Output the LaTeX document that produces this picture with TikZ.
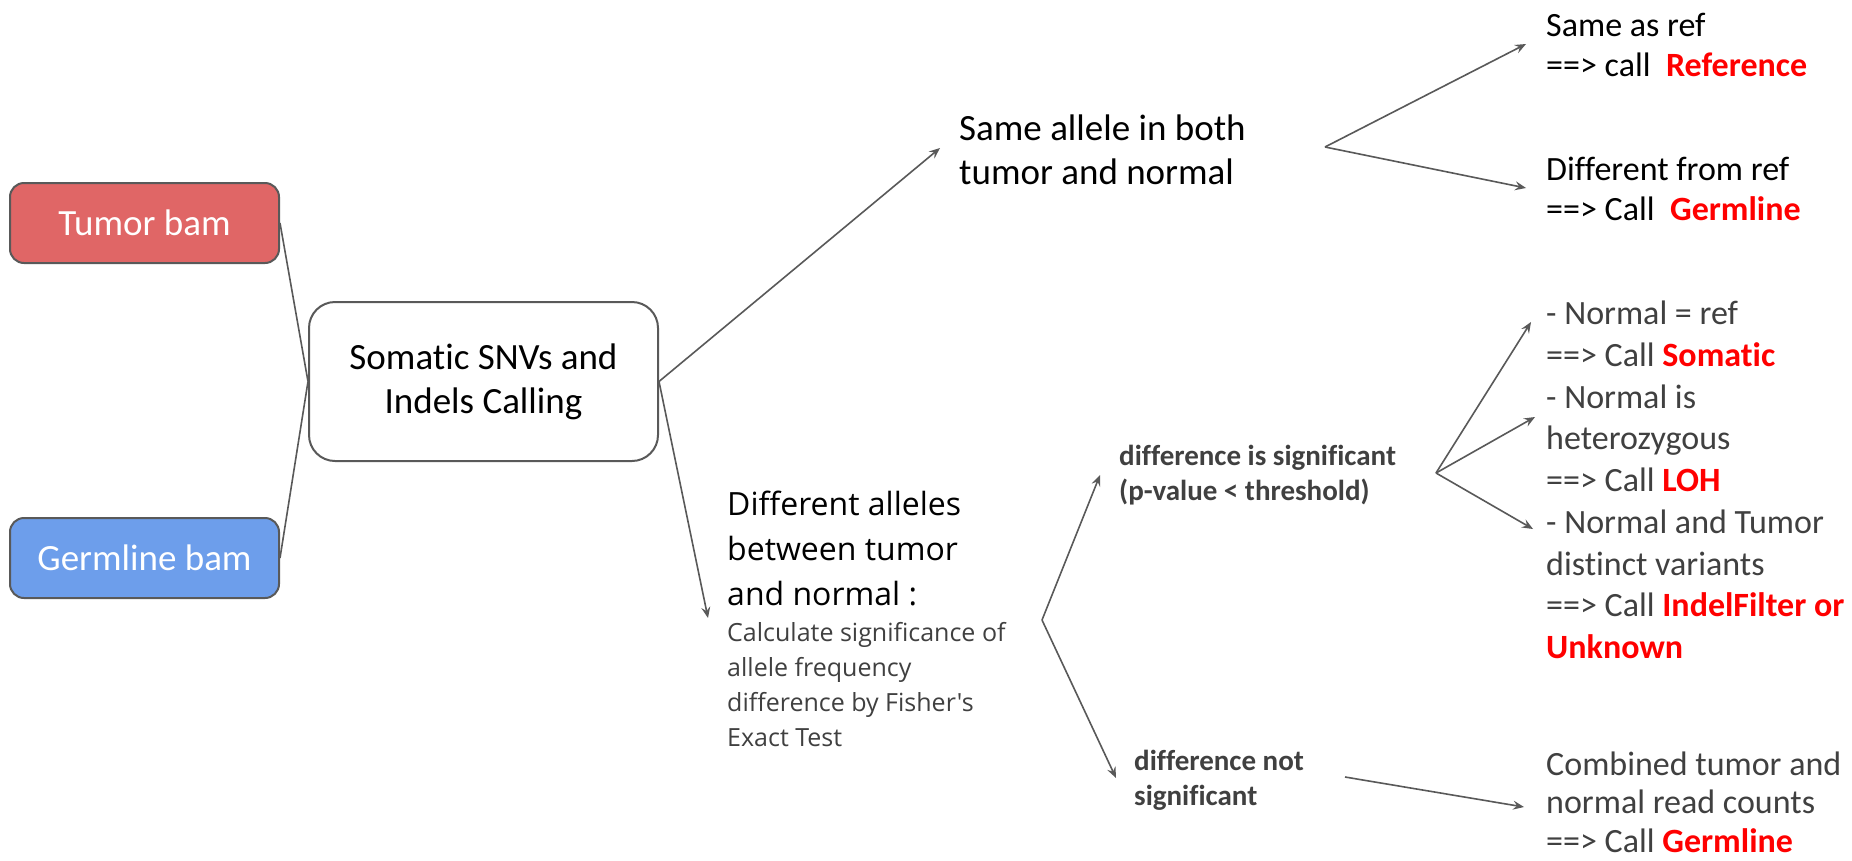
\documentclass[tikz,border=0pt]{standalone}
\usepackage{fontspec}
\setmainfont{Carlito}[Ligatures={NoCommon}]
\newfontfamily\osans{Open Sans}[Ligatures={NoCommon}]
\usetikzlibrary{arrows.meta}
\definecolor{tumorred}{HTML}{E06666}
\definecolor{germblue}{HTML}{6D9EEB}
\definecolor{edgegray}{HTML}{595959}
\definecolor{txtgray}{HTML}{404040}
\definecolor{callred}{HTML}{FF0000}
\tikzset{
  x=1pt, y=-1pt,
  inbox/.style={draw=edgegray, line width=2pt, rounded corners=14pt, minimum width=269pt, minimum height=80pt, text=white, font=\fontsize{37}{44}\selectfont},
  mainbox/.style={draw=edgegray, line width=2pt, rounded corners=26pt, fill=white, minimum width=349pt, minimum height=159pt, align=center, font=\fontsize{37}{44}\selectfont},
  txt/.style={anchor=west, inner sep=0pt, align=left},
  conn/.style={draw=edgegray, line width=1.6pt},
  arr/.style={conn, -{Stealth[length=11pt,width=9pt,inset=4pt]}},
}
\newcommand{\callred}[1]{\textcolor{callred}{\textbf{#1}}}
\begin{document}
\begin{tikzpicture}
\useasboundingbox (0,0) rectangle (1852,860);
\fill[white] (0,0) rectangle (1852,860);

% boxes
\node[inbox, fill=tumorred] (tumor) at (144.5,223) {Tumor bam};
\node[inbox, fill=germblue] (germ) at (144.5,558) {Germline bam};
\node[mainbox] (som) at (483.5,381.5) {Somatic SNVs and\\Indels Calling};

% texts
\node[txt, font=\fontsize{37}{44}\selectfont] (same) at (959,150) {Same allele in both\\tumor and normal};
\node[txt, font=\fontsize{34}{40}\selectfont] (ref) at (1546,45) {Same as ref\\==> call\ \ \callred{Reference}};
\node[txt, font=\fontsize{34}{40}\selectfont] (gl) at (1546,189) {Different from ref\\==> Call\ \ \callred{Germline}};

\node[txt, font=\osans\fontsize{32}{45}\selectfont] (diffa) at (727,548) {Different alleles\\between tumor\\and normal :};
\node[txt, text=txtgray, font=\osans\fontsize{25}{35}\selectfont] (diffb) at (727,685) {Calculate significance of\\allele frequency\\difference by Fisher's\\Exact Test};

\node[txt, text=txtgray, font=\bfseries\fontsize{29}{35}\selectfont] (sig) at (1119,475) {difference is significant\\(p-value < threshold)};
\node[txt, text=txtgray, font=\bfseries\fontsize{29}{35}\selectfont] (nsig) at (1134,780) {difference not\\significant};

\node[txt, text=txtgray, font=\fontsize{34}{41.7}\selectfont] (res) at (1546,480) {- Normal = ref\\==> Call \callred{Somatic}\\- Normal is\\heterozygous\\==> Call \callred{LOH}\\- Normal and Tumor\\distinct variants\\==> Call \callred{IndelFilter or}\\\callred{Unknown}};
\node[txt, text=txtgray, font=\fontsize{34}{38.5}\selectfont] (comb) at (1546,802) {Combined tumor and\\normal read counts\\==> Call \callred{Germline}};

% coordinates
\coordinate (saTip) at (940,148);
\coordinate (daTip) at (708,618);
\coordinate (f1) at (1325,147);
\coordinate (refTip) at (1526,44);
\coordinate (glTip) at (1526,188);
\coordinate (f2) at (1042,620);
\coordinate (sigTip) at (1100,475);
\coordinate (nsigTip) at (1116,778);
\coordinate (f3) at (1436,473);
\coordinate (t1) at (1531,322);
\coordinate (t2) at (1535,417);
\coordinate (t3) at (1533,529);
\coordinate (nsStart) at (1345,777);
\coordinate (combTip) at (1524,807);

% connectors
\draw[conn] (tumor.east) -- (som.west);
\draw[conn] (germ.east) -- (som.west);
\draw[arr] (som.east) -- (saTip);
\draw[arr] (som.east) -- (daTip);
\draw[arr] (f1) -- (refTip);
\draw[arr] (f1) -- (glTip);
\draw[arr] (f2) -- (sigTip);
\draw[arr] (f2) -- (nsigTip);
\draw[arr] (f3) -- (t1);
\draw[arr] (f3) -- (t2);
\draw[arr] (f3) -- (t3);
\draw[arr] (nsStart) -- (combTip);
\end{tikzpicture}
\end{document}
